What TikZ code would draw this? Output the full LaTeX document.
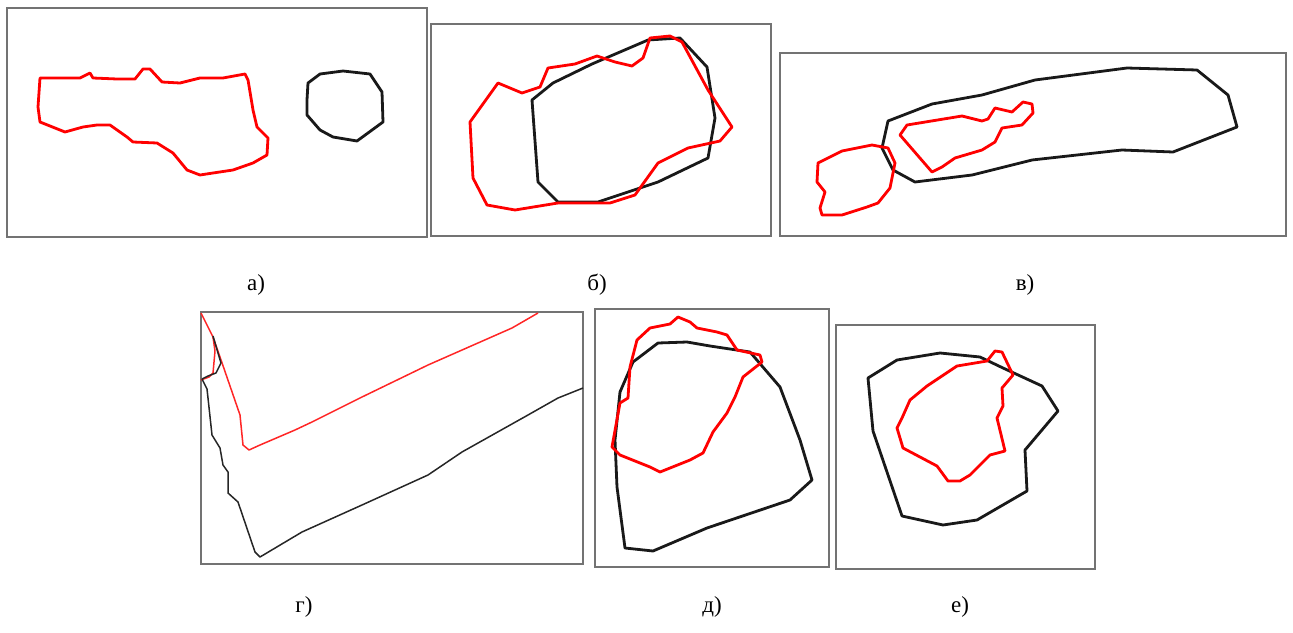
\documentclass[tikz,border=0pt]{standalone}
\usepackage{fontspec}
\setmainfont{Liberation Serif}
\begin{document}
\begin{tikzpicture}[x=1pt,y=-1pt,
  frame/.style={draw=black!55,line width=2.8pt},
  redc/.style={draw=red,line width=2.8pt,line join=round},
  blackc/.style={draw=black!90,line width=2.8pt,line join=round},
  redthin/.style={draw=red!85,line width=1.5pt,line join=round},
  blackthin/.style={draw=black!85,line width=1.5pt,line join=round},
  lbl/.style={font=\fontsize{23}{25}\selectfont,inner sep=0pt}]
\useasboundingbox (0,0) rectangle (1293,632);
% frames
\draw[frame] (7,8) rectangle (427,237);
\draw[frame] (431,24) rectangle (771,236);
\draw[frame] (780,53) rectangle (1286,236);
\draw[frame] (201,312) rectangle (583,564);
\draw[frame] (595,309) rectangle (829,567);
\draw[frame] (836,325) rectangle (1095,569);
% a)
\draw[redc] (40,78) -- (80,78) -- (90,73) -- (93,78) -- (117,79) -- (135,79) -- (143,69) -- (150,69) -- (162,82) -- (180,83) -- (200,78) -- (223,78) -- (245,74) -- (248,80) -- (253,110) -- (257,127) -- (268,138) -- (267,155) -- (253,163) -- (233,170) -- (213,173) -- (200,175) -- (187,170) -- (173,153) -- (157,143) -- (133,142) -- (127,137) -- (110,125) -- (97,125) -- (83,127) -- (65,132) -- (40,122) -- (38,107) -- cycle;
\draw[blackc] (308,83) -- (320,74) -- (343,71) -- (370,74) -- (382,92) -- (383,122) -- (357,141) -- (333,137) -- (320,130) -- (307,115) -- (307,100) -- cycle;
% b)
\draw[blackc] (532,100) -- (553,83) -- (592,64) -- (648,40) -- (680,38) -- (707,67) -- (715,118) -- (708,158) -- (658,182) -- (598,202) -- (558,202) -- (538,182) -- cycle;
\draw[redc] (470,122) -- (498,83) -- (522,93) -- (540,87) -- (548,68) -- (575,64) -- (597,56) -- (615,62) -- (632,66) -- (643,58) -- (650,38) -- (670,36) -- (682,42) -- (708,90) -- (732,127) -- (720,141) -- (688,148) -- (658,163) -- (635,195) -- (610,203) -- (558,203) -- (515,210) -- (487,205) -- (473,178) -- cycle;
% c)
\draw[blackc] (888,121) -- (932,104) -- (982,95) -- (1035,80) -- (1127,68) -- (1197,70) -- (1228,95) -- (1237,127) -- (1173,152) -- (1122,150) -- (1032,160) -- (972,175) -- (915,182) -- (893,170) -- (882,148) -- cycle;
\draw[redc] (900,135) -- (907,125) -- (962,116) -- (982,121) -- (988,119) -- (995,108) -- (1012,112) -- (1023,102) -- (1032,104) -- (1033,113) -- (1022,125) -- (1002,128) -- (995,142) -- (982,150) -- (955,158) -- (942,167) -- (932,172) -- cycle;
\draw[redc] (818,163) -- (842,151) -- (872,145) -- (888,148) -- (895,163) -- (890,188) -- (878,203) -- (867,207) -- (842,215) -- (822,215) -- (820,208) -- (825,192) -- (817,182) -- cycle;
% g)
\draw[redthin] (201,313) -- (213,337) -- (220,357) -- (240,415) -- (243,445) -- (249,450) -- (260,445) -- (295,430) -- (312,422) -- (362,397) -- (428,365) -- (512,328) -- (538,313);
\draw[redthin] (201,380) -- (209,377) -- (213,373) -- (215,351) -- (213,337);
\draw[blackthin] (202,379) -- (208,376) -- (216,373) -- (221,363) -- (218,353) -- (213,336);
\draw[blackthin] (202,379) -- (207,389) -- (208,398) -- (212,435) -- (220,448) -- (223,465) -- (228,472) -- (228,493) -- (238,502) -- (255,552) -- (260,557) -- (302,532) -- (362,505) -- (428,475) -- (462,452) -- (528,415) -- (558,398) -- (583,388);
% d)
\draw[blackc] (625,548) -- (653,551) -- (707,528) -- (790,500) -- (812,480) -- (800,440) -- (780,387) -- (750,352) -- (710,346) -- (687,342) -- (658,343) -- (633,362) -- (620,392) -- (615,440) -- (617,487) -- cycle;
\draw[redc] (612,447) -- (620,403) -- (628,398) -- (630,367) -- (637,340) -- (650,328) -- (670,324) -- (678,317) -- (690,322) -- (697,328) -- (717,332) -- (727,335) -- (737,350) -- (760,355) -- (762,362) -- (743,377) -- (735,397) -- (727,413) -- (713,432) -- (703,453) -- (690,460) -- (660,472) -- (650,467) -- (620,455) -- cycle;
% e)
\draw[blackc] (868,378) -- (897,360) -- (940,353) -- (980,357) -- (1003,368) -- (1042,386) -- (1058,411) -- (1025,450) -- (1027,491) -- (977,520) -- (943,525) -- (902,516) -- (873,431) -- cycle;
\draw[redc] (897,428) -- (902,418) -- (910,400) -- (927,386) -- (957,366) -- (987,361) -- (995,351) -- (1002,352) -- (1013,375) -- (1002,388) -- (1003,406) -- (997,418) -- (1005,451) -- (990,455) -- (970,475) -- (960,481) -- (948,481) -- (937,466) -- (903,448) -- cycle;
% labels
\node[lbl] (la) at (256,285) {а)};
\node[lbl] (lb) at (597,285) {б)};
\node[lbl] (lc) at (1025,285) {в)};
\node[lbl] (ld) at (304,607) {г)};
\node[lbl] (le) at (712,607) {д)};
\node[lbl] (lf) at (960,607) {е)};
\end{tikzpicture}
\end{document}
